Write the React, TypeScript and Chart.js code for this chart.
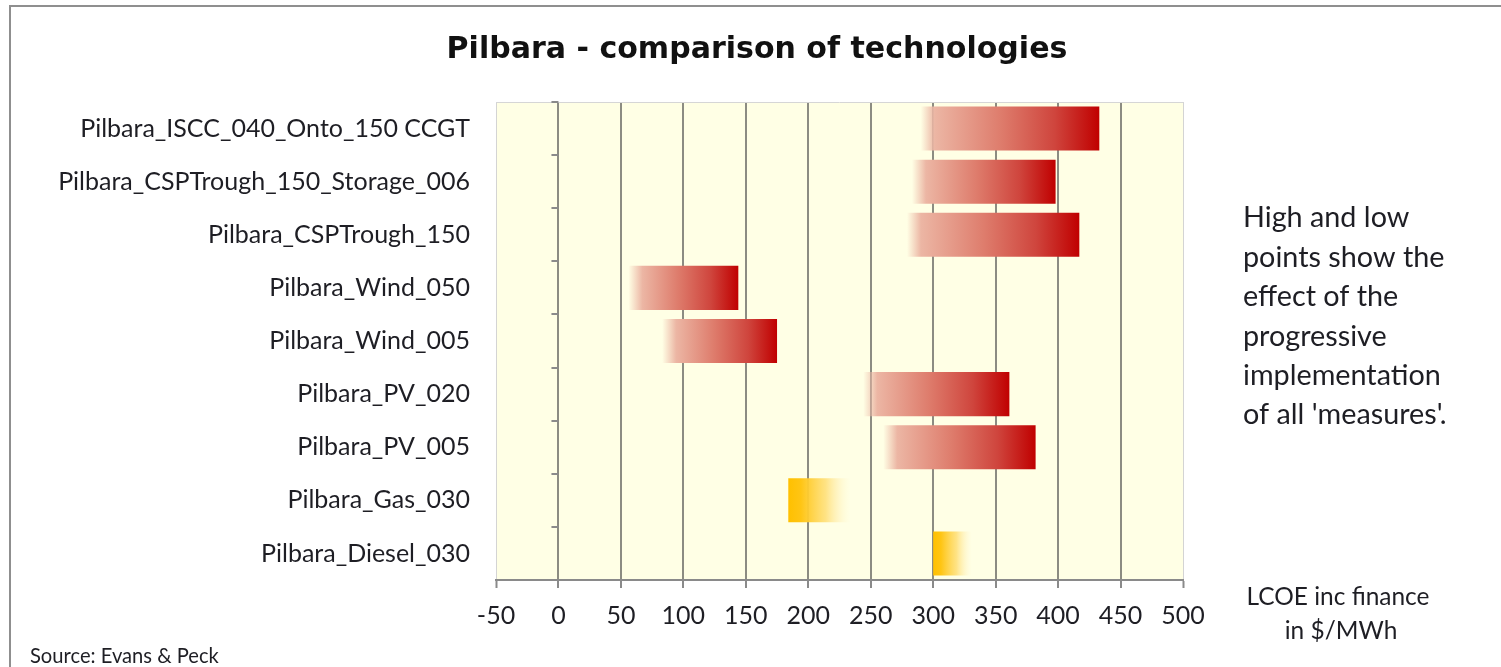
import React, { useEffect, useRef } from "react";
import { Chart, registerables } from "chart.js";

Chart.register(...registerables);

const categories = [
  "Pilbara_ISCC_040_Onto_150 CCGT",
  "Pilbara_CSPTrough_150_Storage_006",
  "Pilbara_CSPTrough_150",
  "Pilbara_Wind_050",
  "Pilbara_Wind_005",
  "Pilbara_PV_020",
  "Pilbara_PV_005",
  "Pilbara_Gas_030",
  "Pilbara_Diesel_030",
];
const lowValues = [290, 283, 279, 56, 83, 244, 260, 184, 300];
const highValues = [433, 398, 417, 144, 175, 361, 382, 234, 331];
const barTypes = ["fade-left", "fade-left", "fade-left", "fade-left", "fade-left", "fade-left", "fade-left", "fade-right", "fade-right"];
const xTickValues = [-50, 0, 50, 100, 150, 200, 250, 300, 350, 400, 450, 500];

const titleText = "Pilbara - comparison of technologies";
const noteLines = [
  "High and low",
  "points show the",
  "effect of the",
  "progressive",
  "implementation",
  "of all 'measures'.",
];
const unitLines = ["LCOE inc finance", "in $/MWh"];
const sourceText = "Source: Evans & Peck";

const LABEL_FAMILY = "Lato";
const TITLE_FAMILY = "'DejaVu Sans'";
const TEXT_COLOR = "#1e1e24";

function fitSize(text: string, family: string, weight: string, target: number) {
  const c = document.createElement("canvas").getContext("2d")!;
  c.font = `${weight} 100px ${family}`;
  return (100 * target) / c.measureText(text).width;
}

export default function App() {
  const ref = useRef<HTMLCanvasElement | null>(null);

  useEffect(() => {
    const canvas = ref.current;
    if (!canvas) return;

    const labelSize = fitSize("Pilbara_CSPTrough_150_Storage_006", LABEL_FAMILY, "normal", 412);
    const noteSize = fitSize("implementation", LABEL_FAMILY, "normal", 198);
    const unitSize = fitSize("LCOE inc finance", LABEL_FAMILY, "normal", 183);
    const sourceSize = fitSize(sourceText, LABEL_FAMILY, "normal", 189);
    const titleSize = fitSize(titleText, TITLE_FAMILY, "bold", 621);

    const barFill = (ctx: any) => {
      const chart = ctx.chart;
      const i = ctx.dataIndex;
      const xs = chart.scales?.x;
      if (i === undefined || !xs || !chart.chartArea) return "#C00000";
      const a = xs.getPixelForValue(lowValues[i]);
      const b = xs.getPixelForValue(highValues[i]);
      const w = Math.max(1, b - a);
      const g = chart.ctx.createLinearGradient(a, 0, b, 0);
      if (barTypes[i] === "fade-right") {
        g.addColorStop(0, "#FFC000");
        g.addColorStop(0.2, "#FFC514");
        g.addColorStop(0.6, "rgba(255,222,115,0.85)");
        g.addColorStop(1, "rgba(255,245,200,0)");
      } else {
        const s = Math.min(0.3, 14 / w);
        g.addColorStop(0, "rgba(236,184,166,0)");
        g.addColorStop(s, "rgba(236,182,164,1)");
        g.addColorStop(0.45, "#DE7C6C");
        g.addColorStop(0.75, "#CF453D");
        g.addColorStop(1, "#C00000");
      }
      return g;
    };

    const decor = {
      id: "decor",
      beforeDraw(chart: any) {
        const { ctx, chartArea: a } = chart;
        ctx.save();
        ctx.fillStyle = "#ffffff";
        ctx.fillRect(0, 0, chart.width, chart.height);
        ctx.strokeStyle = "#8f8f8f";
        ctx.lineWidth = 2;
        ctx.strokeRect(10, 6, 1700, 800);
        ctx.fillStyle = "#FFFFE5";
        ctx.fillRect(a.left, a.top, a.right - a.left, a.bottom - a.top);
        ctx.restore();
      },
      afterDraw(chart: any) {
        const { ctx, chartArea: a } = chart;
        const xs = chart.scales.x;
        ctx.save();
        // plot top border
        ctx.strokeStyle = "#d6d6d6";
        ctx.lineWidth = 1;
        ctx.beginPath();
        ctx.moveTo(a.left, a.top + 0.5);
        ctx.lineTo(a.right, a.top + 0.5);
        ctx.stroke();
        // category tick marks on the zero axis
        const x0 = xs.getPixelForValue(0);
        const n = categories.length;
        const rowH = (a.bottom - a.top) / n;
        ctx.strokeStyle = "#8a8a8a";
        ctx.lineWidth = 2;
        for (let i = 0; i <= n; i++) {
          const y = Math.round(a.top + i * rowH);
          ctx.beginPath();
          ctx.moveTo(x0 - 7, y);
          ctx.lineTo(x0, y);
          ctx.stroke();
        }
        // title
        ctx.fillStyle = "#111111";
        ctx.textAlign = "center";
        ctx.textBaseline = "middle";
        ctx.font = `bold ${titleSize}px ${TITLE_FAMILY}`;
        ctx.fillText(titleText, 757, 50);
        // note
        ctx.fillStyle = TEXT_COLOR;
        ctx.textAlign = "left";
        ctx.font = `${noteSize}px ${LABEL_FAMILY}`;
        const noteY = [218, 257.5, 297, 336.5, 375.5, 415];
        noteLines.forEach((t, k) => ctx.fillText(t, 1243, noteY[k]));
        // unit
        ctx.textAlign = "center";
        ctx.font = `${unitSize}px ${LABEL_FAMILY}`;
        ctx.fillText(unitLines[0], 1338, 597);
        ctx.fillText(unitLines[1], 1341, 631);
        // source
        ctx.textAlign = "left";
        ctx.font = `${sourceSize}px ${LABEL_FAMILY}`;
        ctx.fillText(sourceText, 30, 656);
        ctx.restore();
      },
    };

    const chart = new Chart(canvas, {
      type: "bar",
      data: {
        labels: categories,
        datasets: [
          {
            label: "LCOE range",
            data: lowValues.map((lo, i) => [lo, highValues[i]]),
            backgroundColor: barFill,
            borderWidth: 0,
            barPercentage: 0.83,
            categoryPercentage: 1,
          },
        ],
      },
      options: {
        indexAxis: "y",
        responsive: false,
        animation: false,
        events: [],
        layout: { padding: { left: 0, top: 102, right: 318, bottom: 27 } },
        plugins: {
          legend: { display: false },
          title: { display: false },
          tooltip: { enabled: false },
        },
        scales: {
          x: {
            type: "linear",
            min: -50,
            max: 500,
            z: 1,
            afterBuildTicks: (scale: any) => {
              scale.ticks = xTickValues.map((v) => ({ value: v }));
            },
            afterFit: (scale: any) => {
              scale.height = 60;
            },
            grid: {
              color: (c: any) =>
                c.tick && (c.tick.value === -50 || c.tick.value === 500)
                  ? "#d4d4d4"
                  : "rgba(70,70,70,0.62)",
              lineWidth: (c: any) =>
                c.tick && (c.tick.value === -50 || c.tick.value === 500) ? 1 : 2,
              tickColor: "#8a8a8a",
              tickWidth: 2,
              tickLength: 8,
              drawTicks: true,
            },
            border: { display: true, color: "#8a8a8a", width: 2 },
            ticks: {
              padding: 13,
              autoSkip: false,
              maxRotation: 0,
              color: TEXT_COLOR,
              font: { family: LABEL_FAMILY, size: labelSize },
              callback: (v: any) => String(v),
            },
          },
          y: {
            type: "category",
            afterFit: (scale: any) => {
              scale.width = 496;
            },
            grid: { display: false, drawTicks: false },
            border: { display: false },
            ticks: {
              padding: 26,
              autoSkip: false,
              color: TEXT_COLOR,
              font: { family: LABEL_FAMILY, size: labelSize },
            },
          },
        },
      },
      plugins: [decor],
    } as any);

    return () => chart.destroy();
  }, []);

  return (
    <div style={{ position: "fixed", left: 0, top: 0, width: 1501, height: 667, background: "#fff" }}>
      <canvas ref={ref} width={1501} height={667} style={{ width: 1501, height: 667, display: "block" }} />
    </div>
  );
}
